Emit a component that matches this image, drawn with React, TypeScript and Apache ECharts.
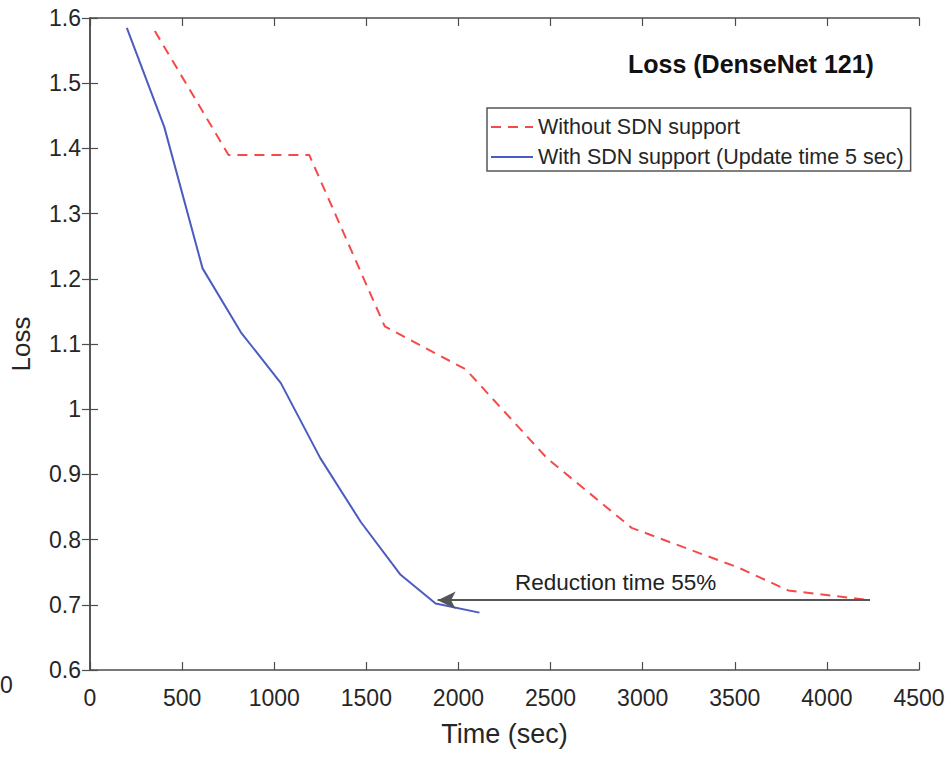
import React, { useEffect, useRef } from "react";
import * as echarts from "echarts";

const withoutSdn: [number, number][] = [
  [352, 1.58], [752, 1.39], [1190, 1.39], [1600, 1.127], [2040, 1.061],
  [2480, 0.925], [2940, 0.818], [3520, 0.757], [3790, 0.722], [4240, 0.707],
];
const withSdn: [number, number][] = [
  [200, 1.585], [403, 1.433], [611, 1.216], [819, 1.118], [1036, 1.04],
  [1250, 0.925], [1470, 0.827], [1686, 0.746], [1876, 0.702], [2114, 0.688],
];
const arrowFrom: [number, number] = [4234, 0.707];
const arrowTo: [number, number] = [1887, 0.707];
const seriesNames = ["Without SDN support", "With SDN support (Update time 5 sec)"];
const titleText = "Loss (DenseNet 121)";
const annotationText = "Reduction time 55%";

const FONT = "'Liberation Sans', Arial, Helvetica, sans-serif";
const TXT = "#262626";
const AX = "#4d4d4d";

export default function App() {
  const ref = useRef<HTMLDivElement>(null);
  useEffect(() => {
    if (!ref.current) return;
    const chart = echarts.init(ref.current, undefined, { renderer: "svg" });
    const axisCommon = {
      axisLine: { show: true, lineStyle: { color: AX, width: 1.5 } },
      axisTick: { show: true, inside: true, length: 8, lineStyle: { color: AX, width: 1.2 } },
      splitLine: { show: false },
    };
    chart.setOption({
      animation: false,
      backgroundColor: "#fff",
      textStyle: { fontFamily: FONT },
      title: {
        text: titleText,
        left: 628,
        top: 51,
        padding: 0,
        textStyle: { fontFamily: FONT, fontSize: 25, fontWeight: "bold", color: "#111" },
      },
      legend: {
        data: seriesNames,
        orient: "vertical",
        left: 487,
        top: 108,
        padding: [7, 7, 2, 3],
        itemWidth: 42,
        itemHeight: 14,
        itemGap: 6,
        itemStyle: { opacity: 0 },
        borderColor: "#555",
        borderWidth: 1.5,
        backgroundColor: "#fff",
        textStyle: { fontFamily: FONT, fontSize: 21.5, color: TXT, lineHeight: 24 },
      },
      grid: { left: 89, top: 18, right: 32, bottom: 87, containLabel: false },
      xAxis: [
        {
          type: "value",
          min: 0,
          max: 4500,
          interval: 500,
          name: "Time (sec)",
          nameLocation: "middle",
          nameGap: 50,
          nameTextStyle: { fontFamily: FONT, fontSize: 27, color: TXT },
          axisLabel: {
            fontFamily: FONT,
            fontSize: 23,
            color: TXT,
            margin: 16,
            formatter: (v: number) => String(v),
          },
          ...axisCommon,
        },
        {
          type: "value",
          position: "top",
          min: 0,
          max: 4500,
          interval: 500,
          axisLabel: { show: false },
          ...axisCommon,
        },
      ],
      yAxis: [
        {
          type: "value",
          min: 0.6,
          max: 1.6,
          interval: 0.1,
          name: "Loss",
          nameLocation: "middle",
          nameGap: 56,
          nameRotate: 90,
          nameTextStyle: { fontFamily: FONT, fontSize: 26, color: TXT },
          axisLabel: { fontFamily: FONT, fontSize: 23, color: TXT, margin: 9 },
          ...axisCommon,
        },
        {
          type: "value",
          position: "right",
          min: 0.6,
          max: 1.6,
          interval: 0.1,
          axisLabel: { show: false },
          ...axisCommon,
        },
      ],
      graphic: [
        {
          type: "text",
          left: 515,
          top: 571,
          style: { text: annotationText, fontFamily: FONT, fontSize: 22.5, fill: "#222" },
          silent: true,
        },
        {
          type: "text",
          left: 0,
          top: 673,
          style: { text: "0", fontFamily: FONT, fontSize: 23, fill: TXT },
          silent: true,
        },
      ],
      series: [
        {
          name: seriesNames[0],
          type: "line",
          data: withoutSdn,
          symbol: "none",
          lineStyle: { color: "#f44a4a", width: 2, type: [10, 7] },
          itemStyle: { color: "#f44a4a" },
          z: 3,
        },
        {
          name: seriesNames[1],
          type: "line",
          data: withSdn,
          symbol: "none",
          lineStyle: { color: "#4b5cc0", width: 2 },
          itemStyle: { color: "#4b5cc0" },
          z: 3,
        },
        {
          name: "annotation",
          type: "line",
          data: [],
          silent: true,
          markLine: {
            silent: true,
            symbol: ["none", "arrow"],
            symbolSize: [13, 18],
            label: { show: false },
            lineStyle: { color: "#555", width: 2, type: "solid" },
            emphasis: { disabled: true },
            data: [[{ coord: arrowFrom }, { coord: arrowTo, itemStyle: { color: "#111" } }]],
          },
          z: 4,
        },
      ],
    });
    return () => chart.dispose();
  }, []);
  return <div ref={ref} style={{ width: 951, height: 757, position: "absolute", left: 0, top: 0 }} />;
}
